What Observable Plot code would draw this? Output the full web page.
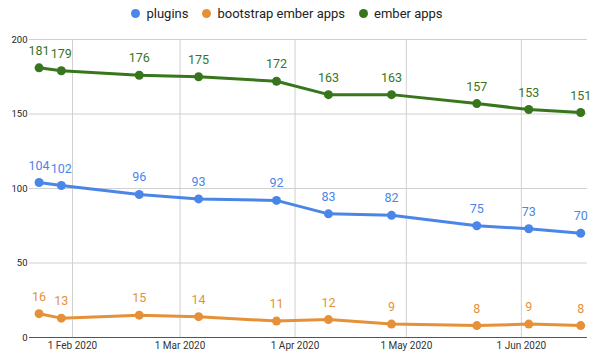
<!DOCTYPE html>
<html><head><meta charset="utf-8">
<script src="https://cdn.jsdelivr.net/npm/d3@7"></script>
<script src="https://cdn.jsdelivr.net/npm/@observablehq/plot@0.6"></script>
<style>
body{margin:0;background:#fff;font-family:Roboto,sans-serif;}
#legend{height:30px;display:flex;justify-content:center;align-items:center;gap:14px;padding-right:26px;padding-bottom:4px;box-sizing:border-box;}
.item{font-size:13px;color:#222;display:flex;align-items:center;}
.dot{width:9px;height:9px;border-radius:50%;margin-right:6px;}
</style></head><body>
<div id="legend"></div>
<div id="chart"></div>
<script>
const dates = ["2020-01-23","2020-01-29","2020-02-19","2020-03-06","2020-03-27","2020-04-10","2020-04-27","2020-05-20","2020-06-03","2020-06-17"];
const plugins = [104,102,96,93,92,83,82,75,73,70];
const bootstrapEmberApps = [16,13,15,14,11,12,9,8,9,8];
const emberApps = [181,179,176,175,172,163,163,157,153,151];
const seriesNames = ["plugins","bootstrap ember apps","ember apps"];
const seriesColors = ["#4a86e8","#e69138","#38761d"];
const monthTicks = ["2020-02-01","2020-03-01","2020-04-01","2020-05-01","2020-06-01"];
const yTicks = [0,50,100,150,200];

const seriesValues = [plugins, bootstrapEmberApps, emberApps];
const data = [];
seriesNames.forEach((s, i) => {
  dates.forEach((d, j) => data.push({series: s, date: new Date(d), value: seriesValues[i][j]}));
});

const legend = document.getElementById("legend");
seriesNames.forEach((s, i) => {
  const it = document.createElement("div");
  it.className = "item";
  it.innerHTML = `<span class="dot" style="background:${seriesColors[i]}"></span><span>${s}</span>`;
  legend.appendChild(it);
});

const chart = Plot.plot({
  width: 600,
  height: 327,
  marginTop: 9,
  marginBottom: 20,
  marginLeft: 29,
  marginRight: 13,
  style: {fontFamily: "Roboto, sans-serif", background: "#fff"},
  x: {type: "utc", domain: [new Date("2020-01-20T10:00Z"), new Date("2020-06-18T20:00Z")]},
  y: {domain: [0, 200]},
  color: {domain: seriesNames, range: seriesColors},
  marks: [
    Plot.gridY(yTicks.filter(d => d > 0), {stroke: "#d0d0d0", strokeOpacity: 1}),
    Plot.gridX(monthTicks.map(d => new Date(d)), {stroke: "#d0d0d0", strokeOpacity: 1}),
    Plot.ruleY([0], {stroke: "#555"}),
    Plot.axisY(yTicks, {tickSize: 0, tickPadding: 2, fontSize: 9.5, fill: "#222", label: null}),
    Plot.axisX(monthTicks.map(d => new Date(d)), {tickSize: 0, tickPadding: 4, fontSize: 10, fill: "#333", label: null, tickFormat: d3.utcFormat("%-d %b %Y")}),
    Plot.line(data, {x: "date", y: "value", stroke: "series", strokeWidth: 3, z: "series"}),
    Plot.dot(data, {x: "date", y: "value", fill: "series", r: 4.5}),
    Plot.text(data, {x: "date", y: "value", text: d => String(d.value), fill: "series", dy: -17, fontSize: 12.5})
  ]
});
document.getElementById("chart").appendChild(chart);
</script>
</body></html>
